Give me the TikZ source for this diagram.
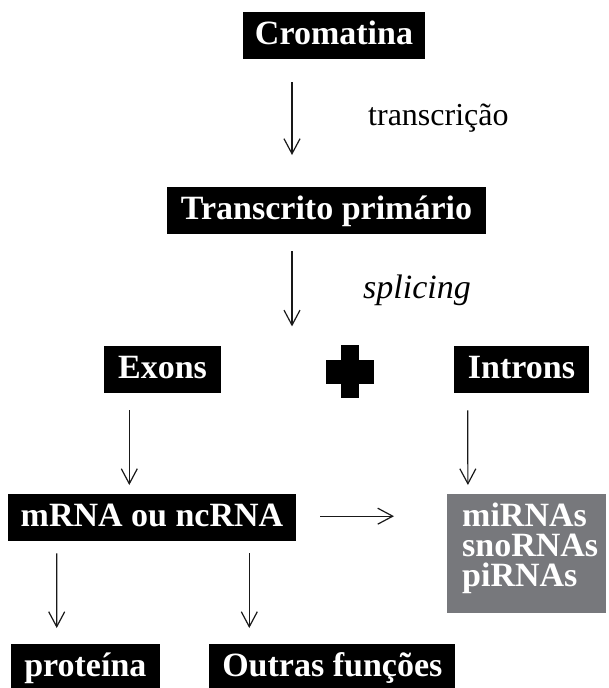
\documentclass[tikz,border=0pt]{standalone}
\usepackage{fontspec}
\setmainfont{Liberation Serif}
\usetikzlibrary{arrows.meta,calc}
\definecolor{rnagray}{RGB}{119,120,124}
\tikzset{
  box/.style={fill=black, text=white, inner sep=0pt, anchor=north,
    font=\bfseries\fontsize{34}{30}\selectfont, text height=32pt, text depth=15pt},
  lowbox/.style={box, text depth=12pt},
  graytext/.style={text=white, inner sep=0pt, anchor=base west,
    text width=140pt, align=left,
    font=\bfseries\fontsize{34}{30}\selectfont},
  label/.style={inner sep=0pt, anchor=base west},
  flow/.style={line width=1.2pt, draw=black!90, -{Straight Barb[length=15pt,width=16pt]}},
}
\begin{document}
\begin{tikzpicture}[x=1pt,y=-1pt]
\useasboundingbox (0,0) rectangle (609,688);

% boxes
\node[box, minimum width=182pt] (crom) at (334,12) {Cromatina};
\node[box, minimum width=319pt] (trans) at (326.5,187) {Transcrito primário};
\node[box, minimum width=117pt] (exons) at (162.5,346) {Exons};
\node[box, minimum width=135pt] (introns) at (521.5,346) {Introns};
\node[box, minimum width=288pt] (mrna) at (152,494) {mRNA ou ncRNA};
\node[lowbox, minimum width=149.3pt] (prot) at (85.35,644) {proteína};
\node[lowbox, minimum width=246pt] (outras) at (332.3,644) {Outras funções};

% grey block of small RNAs
\node[fill=rnagray, inner sep=0pt, minimum width=159pt, minimum height=119pt,
      anchor=north west] (small) at (447,494) {};
\node[graytext] (smalltext) at (462,526) {miRNAs\\snoRNAs\\piRNAs};

% plus sign between exons and introns
\fill (341,345) rectangle (359,398);
\fill (326,360) rectangle (374,384);

% step labels
\node[label, font=\fontsize{32}{36}\selectfont] (tlab) at (368,125) {transcrição};
\node[label, font=\itshape\fontsize{34}{38}\selectfont] (slab) at (363,298) {splicing};

% connectors
\draw[flow] ($(crom.south)+(-42,23)$) -- ($(trans.north)+(-34.5,-32)$);
\draw[flow] ($(trans.south)+(-34.5,17)$) -- ($(trans.south)+(-34.5,92)$);
\draw[flow] ($(exons.south)+(-33.2,17)$) -- ($(mrna.north)+(-22.7,-9)$);
\draw[flow] ($(introns.south)+(-53.8,17)$) -- ($(small.north)+(-58.8,-9)$);
\draw[flow] ($(mrna.east)+(24,-1.5)$) -- ($(small.west)+(-53,-37.5)$);
\draw[flow] ($(mrna.south)+(-95.3,12)$) -- ($(prot.north)+(-28.65,-16)$);
\draw[flow] ($(mrna.south)+(97.3,12)$) -- ($(outras.north)+(-83,-16)$);
\end{tikzpicture}
\end{document}
